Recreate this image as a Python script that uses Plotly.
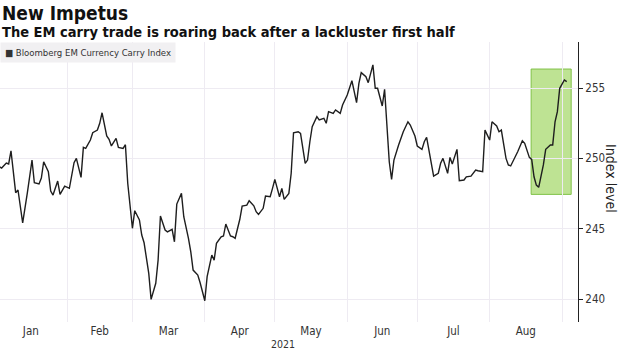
import plotly.graph_objects as go

dates = [
    "2021-01-03", "2021-01-04", "2021-01-06", "2021-01-07", "2021-01-08", "2021-01-10", "2021-01-11",
    "2021-01-13", "2021-01-15", "2021-01-17", "2021-01-18", "2021-01-20", "2021-01-21", "2021-01-22",
    "2021-01-24", "2021-01-25", "2021-01-26", "2021-01-28", "2021-01-29", "2021-01-31",
    "2021-02-02", "2021-02-04", "2021-02-05", "2021-02-07", "2021-02-08", "2021-02-09", "2021-02-11",
    "2021-02-12", "2021-02-14", "2021-02-15", "2021-02-16", "2021-02-18", "2021-02-19", "2021-02-20",
    "2021-02-22", "2021-02-23", "2021-02-25", "2021-02-26", "2021-02-27",
    "2021-03-01", "2021-03-02", "2021-03-04", "2021-03-05", "2021-03-06", "2021-03-08", "2021-03-09",
    "2021-03-11", "2021-03-12", "2021-03-13", "2021-03-15", "2021-03-16", "2021-03-18", "2021-03-19",
    "2021-03-20", "2021-03-22", "2021-03-23", "2021-03-25", "2021-03-26", "2021-03-27", "2021-03-29",
    "2021-03-30",
    "2021-04-01", "2021-04-02", "2021-04-04", "2021-04-05", "2021-04-06", "2021-04-08", "2021-04-09",
    "2021-04-10", "2021-04-12", "2021-04-13", "2021-04-14", "2021-04-16", "2021-04-17", "2021-04-19",
    "2021-04-20", "2021-04-22", "2021-04-23", "2021-04-24", "2021-04-26", "2021-04-27", "2021-04-29",
    "2021-04-30",
    "2021-05-01", "2021-05-03", "2021-05-04", "2021-05-05", "2021-05-07", "2021-05-08", "2021-05-09",
    "2021-05-11", "2021-05-12", "2021-05-14", "2021-05-15", "2021-05-16", "2021-05-17", "2021-05-19",
    "2021-05-20", "2021-05-22", "2021-05-23", "2021-05-24", "2021-05-26", "2021-05-27", "2021-05-29",
    "2021-05-30",
    "2021-06-01", "2021-06-03", "2021-06-05", "2021-06-06", "2021-06-07", "2021-06-09", "2021-06-10",
    "2021-06-12", "2021-06-13", "2021-06-14", "2021-06-16", "2021-06-17", "2021-06-19", "2021-06-20",
    "2021-06-21", "2021-06-23", "2021-06-25", "2021-06-27", "2021-06-28", "2021-06-30",
    "2021-07-01", "2021-07-03", "2021-07-04", "2021-07-05", "2021-07-07", "2021-07-08", "2021-07-10",
    "2021-07-11", "2021-07-12", "2021-07-14", "2021-07-15", "2021-07-16", "2021-07-18", "2021-07-19",
    "2021-07-21", "2021-07-22", "2021-07-24", "2021-07-26", "2021-07-27", "2021-07-29", "2021-07-30",
    "2021-08-01", "2021-08-02", "2021-08-04", "2021-08-05", "2021-08-06", "2021-08-08", "2021-08-09",
    "2021-08-10", "2021-08-12", "2021-08-13", "2021-08-15", "2021-08-16", "2021-08-18", "2021-08-19",
    "2021-08-20", "2021-08-21", "2021-08-22", "2021-08-24", "2021-08-25", "2021-08-27", "2021-08-28",
    "2021-08-29", "2021-08-30", "2021-08-31",
    "2021-09-02", "2021-09-03",
]

carry_index = [
    249.41, 249.31, 249.67, 249.60, 250.54, 247.56, 247.75, 245.42, 247.54, 249.88,
    248.27, 248.18, 248.60, 249.76, 249.05, 247.68, 247.39, 248.39, 247.44, 248.03,
    247.87, 249.69, 250.00, 248.65, 250.78, 250.71, 251.30, 251.82, 252.01, 252.49,
    253.24, 251.59, 251.35, 250.88, 251.42, 250.78, 250.71, 250.97, 248.23,
    245.03, 246.28, 245.62, 244.55, 244.00, 241.83, 239.98, 241.12, 242.77, 245.90,
    244.91, 244.78, 244.96, 244.07, 246.75, 247.51, 245.85, 244.32, 243.36, 242.06,
    241.71, 241.16, 239.88,
    241.59, 243.13, 242.77, 243.96, 244.43, 244.48, 245.33, 244.48, 244.43, 244.32,
    245.67, 246.61, 246.68, 246.99, 246.63, 246.21, 246.02, 246.45, 247.32, 247.27,
    247.87, 248.51,
    247.27, 247.87, 247.09, 247.51, 248.94, 251.82, 251.89, 251.78, 249.65, 249.88,
    251.18, 252.25, 252.96, 252.73, 252.85, 252.49, 253.32, 253.20, 253.44, 253.20,
    253.79, 254.50,
    255.52, 253.96, 255.33, 256.09, 255.80, 255.38, 256.64, 254.98, 254.98, 253.72,
    254.91, 249.76, 248.51, 249.88, 250.95, 251.89, 252.60, 252.37, 251.59,
    250.88, 250.64, 251.18, 251.50, 249.46, 248.74, 248.94, 249.65, 250.00, 248.94,
    250.07, 249.60, 250.64, 248.41, 248.46, 248.69, 248.74, 249.17, 249.12, 249.05,
    252.01,
    251.30, 252.60, 252.30, 251.89, 252.01, 250.00, 249.53, 249.46, 250.12, 250.47,
    251.25, 251.07, 250.07, 249.93, 248.69, 248.10, 247.94, 249.53, 250.64, 250.95,
    250.95, 252.60, 253.32, 254.98,
    255.57, 255.45,
]

series_name = "Bloomberg EM Currency Carry Index"
highlight_start, highlight_end = "2021-08-18 18:00", "2021-09-04 22:00"
highlight_low, highlight_high = 247.44, 256.35
y_ticks = [240, 245, 250, 255]

font_family = "Liberation Sans Narrow, DejaVu Sans Condensed, Arial Narrow, sans-serif"

fig = go.Figure()
fig.add_trace(go.Scatter(
    x=dates, y=carry_index, mode="lines", name=series_name,
    line=dict(color="#1e1e1e", width=1.4), showlegend=False,
))

fig.add_shape(
    type="rect", xref="x", yref="y",
    x0=highlight_start, x1=highlight_end, y0=highlight_low, y1=highlight_high,
    fillcolor="rgba(150,210,80,0.62)", line=dict(color="rgba(120,190,60,0.9)", width=1),
    layer="below",
)

fig.update_layout(
    width=620, height=351,
    margin=dict(l=0, r=42, t=42, b=29),
    paper_bgcolor="white", plot_bgcolor="white",
    font=dict(family=font_family, color="#333333", size=10),
    xaxis=dict(
        type="date",
        range=["2021-01-03 07:00", "2021-09-07 20:00"],
        dtick="M1", tick0="2021-01-01", tickformat="%b",
        ticklabelmode="period",
        showgrid=True, gridcolor="#eeebf2", gridwidth=1,
        showline=False, zeroline=False, ticks="",
        tickfont=dict(size=11.5, color="#333333"),
    ),
    yaxis=dict(
        side="right", range=[238.37, 258.27],
        tickvals=y_ticks,
        showgrid=True, gridcolor="#eeebf2", gridwidth=1,
        showline=True, linecolor="#222222", linewidth=1,
        ticks="outside", ticklen=4, tickcolor="#222222",
        zeroline=False,
        tickfont=dict(size=11.5, color="#333333"),
    ),
    annotations=[
        dict(text="<b>New Impetus</b>", xref="paper", yref="paper", x=0, y=1,
             yshift=42, xanchor="left", yanchor="top", showarrow=False,
             font=dict(size=19, color="#111111", family=font_family)),
        dict(text="<b>The EM carry trade is roaring back after a lackluster first half</b>",
             xref="paper", yref="paper", x=0, y=1, yshift=20,
             xanchor="left", yanchor="top", showarrow=False,
             font=dict(size=14.5, color="#111111", family=font_family)),
        dict(text="■ " + series_name, xref="paper", yref="paper", x=0, y=1,
             xanchor="left", yanchor="top", showarrow=False, bgcolor="#f1f0f2",
             borderpad=4, font=dict(size=9.5, color="#333333", family=font_family)),
        dict(text="Index level", xref="paper", yref="paper", x=1, xshift=33, y=0.514,
             textangle=90, xanchor="center", yanchor="middle", showarrow=False,
             font=dict(size=14, color="#222222", family=font_family)),
        dict(text="2021", xref="paper", yref="paper", x=0.49, y=0, yshift=-14,
             xanchor="center", yanchor="top", showarrow=False,
             font=dict(size=10.5, color="#333333", family=font_family)),
    ],
)

fig.write_html("out.html")
